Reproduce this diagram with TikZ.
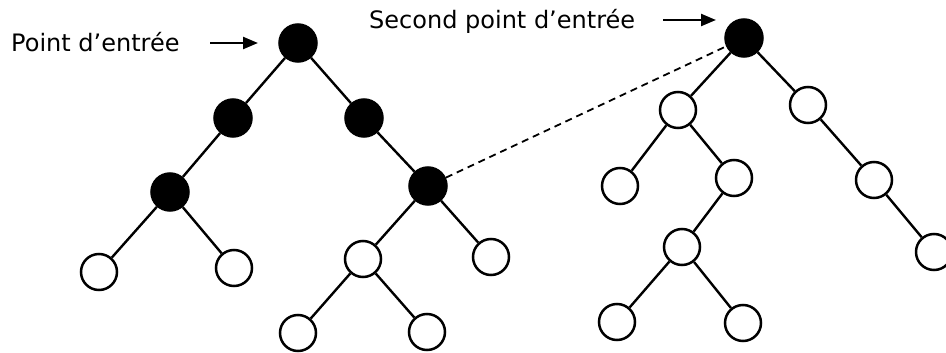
\documentclass[tikz,border=0pt]{standalone}
\usepackage{fontspec}
\setmainfont{DejaVu Sans}
\usetikzlibrary{arrows.meta}

\begin{document}
\begin{tikzpicture}[x=1pt,y=-1pt,
  plein/.style={circle,draw,fill=black,line width=2.5pt,minimum size=37pt,inner sep=0pt},
  vide/.style={circle,draw,fill=white,line width=2.5pt,minimum size=36pt,inner sep=0pt},
  arete/.style={line width=2.4pt},
  fleche/.style={line width=2.3pt,-{Triangle[length=15pt,width=12pt]}},
  etiq/.style={anchor=base west,inner sep=0pt,font=\fontsize{24}{28}\selectfont}]
\useasboundingbox (0,0) rectangle (946,353);
% premier arbre
\node[plein] (a) at (298,43) {};
\node[plein] (b) at (233,118) {};
\node[plein] (c) at (364,118) {};
\node[plein] (d) at (170,192) {};
\node[plein] (e) at (428,186) {};
\node[vide] (d1) at (99,272) {};
\node[vide] (d2) at (234,268) {};
\node[vide] (e1) at (363,259) {};
\node[vide] (e2) at (491,257) {};
\node[vide] (e11) at (298,333) {};
\node[vide] (e12) at (427,332) {};
\draw[arete] (a) -- (b) (a) -- (c) (b) -- (d) (c) -- (e);
\draw[arete] (d) -- (d1) (d) -- (d2) (e) -- (e1) (e) -- (e2);
\draw[arete] (e1) -- (e11) (e1) -- (e12);
% second arbre
\node[plein] (r) at (744,38) {};
\node[vide] (r1) at (678,110) {};
\node[vide] (r2) at (808,105) {};
\node[vide] (r11) at (620,186) {};
\node[vide] (r12) at (734,178) {};
\node[vide] (r21) at (874,180) {};
\node[vide] (r211) at (934,252) {};
\node[vide] (r121) at (682,247) {};
\node[vide] (r1211) at (617,322) {};
\node[vide] (r1212) at (743,323) {};
\draw[arete] (r) -- (r1) (r) -- (r2) (r1) -- (r11) (r1) -- (r12);
\draw[arete] (r2) -- (r21) (r21) -- (r211) (r12) -- (r121);
\draw[arete] (r121) -- (r1211) (r121) -- (r1212);
% lien entre les deux arbres
\draw[line width=1.8pt,dash pattern=on 7pt off 5pt] (e) -- (r);
% points d'entree
\node[etiq] (t1) at (11,52) {Point d’entrée};
\node[etiq] (t2) at (369,29) {Second point d’entrée};
\coordinate (f1) at (210,43);
\coordinate (f1b) at (258,43);
\coordinate (f2) at (663,20);
\coordinate (f2b) at (716,20);
\draw[fleche] (f1) -- (f1b);
\draw[fleche] (f2) -- (f2b);
\end{tikzpicture}
\end{document}
